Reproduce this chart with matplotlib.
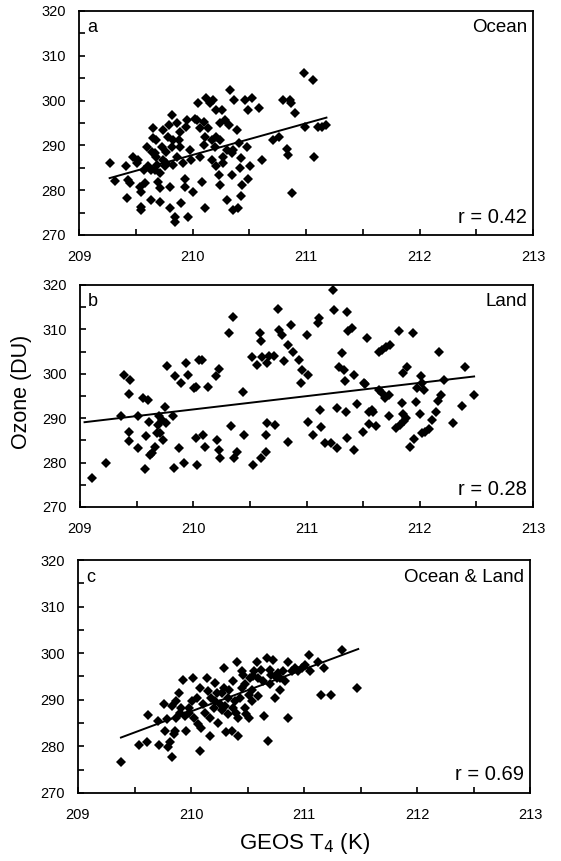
import matplotlib
matplotlib.use("Agg")
import matplotlib.pyplot as plt
from matplotlib.ticker import MultipleLocator

plt.rcParams['font.family'] = ['Liberation Sans', 'DejaVu Sans']

# panel a - Ocean
ocean_x = [209.27, 209.32, 209.41, 209.43, 209.45, 209.42, 209.48, 209.51, 209.52, 209.54,
           209.55, 209.55, 209.55, 209.58, 209.60, 209.61, 209.63, 209.63, 209.64, 209.65,
           209.65, 209.67, 209.67, 209.68, 209.68, 209.70, 209.71, 209.71, 209.73, 209.74,
           209.74, 209.77, 209.77, 209.78, 209.79, 209.80, 209.80, 209.82, 209.82, 209.83,
           209.83, 209.85, 209.85, 209.86, 209.88, 209.89, 209.90, 209.92, 209.93, 209.93,
           209.94, 209.95, 209.96, 209.98, 209.99, 210.00, 210.02, 210.04, 210.05, 210.07,
           210.08, 210.10, 210.10, 210.11, 210.11, 210.12, 210.14, 210.15, 210.17, 210.18,
           210.20, 210.21, 210.21, 210.23, 210.24, 210.24, 210.24, 210.26, 210.27, 210.27,
           210.29, 210.30, 210.32, 210.33, 210.35, 210.35, 210.36, 210.36, 210.37, 210.39,
           210.40, 210.41, 210.42, 210.43, 210.43, 210.44, 210.46, 210.48, 210.49, 210.49,
           210.51, 210.52, 210.59, 210.61, 210.71, 210.76, 210.80, 210.83, 210.84, 210.86,
           210.87, 210.88, 210.90, 210.98, 210.99, 211.06, 211.07, 211.11, 211.14, 211.18,
           209.57, 209.76, 209.89, 210.17, 210.30, 209.86, 209.69, 210.07, 209.71, 210.21]
ocean_y = [286.0, 282.1, 285.4, 282.3, 281.7, 278.3, 287.5, 286.0, 286.7, 280.8,
           279.7, 276.3, 275.6, 281.5, 289.7, 285.3, 284.5, 277.8, 288.6, 293.8,
           291.6, 288.2, 284.5, 291.2, 287.5, 281.9, 280.4, 277.4, 289.7, 293.4,
           286.7, 288.6, 286.0, 291.9, 294.6, 276.0, 280.8, 296.8, 289.7, 291.2,
           285.6, 274.1, 273.0, 294.9, 291.2, 289.7, 277.1, 286.0, 282.6, 280.8,
           294.2, 295.7, 274.1, 289.0, 286.7, 279.7, 296.0, 295.7, 299.4, 293.8,
           281.9, 295.3, 290.1, 291.9, 276.0, 300.5, 293.8, 299.4, 286.7, 300.1,
           289.7, 297.9, 285.3, 283.4, 291.2, 294.9, 281.2, 297.9, 287.5, 286.0,
           295.7, 277.8, 294.6, 302.4, 283.4, 288.2, 289.0, 275.6, 300.1, 293.4,
           276.0, 290.5, 284.9, 278.6, 287.1, 281.2, 300.1, 289.7, 297.9, 282.6,
           285.3, 300.5, 298.3, 286.7, 291.2, 291.9, 300.1, 289.3, 287.9, 300.1,
           299.4, 279.3, 297.2, 306.1, 294.2, 304.6, 287.5, 294.2, 294.0, 294.6,
           284.5, 285.3, 293.1, 291.2, 289.0, 287.5, 285.6, 287.5, 283.8, 291.9]
ocean_fit_x = [209.27, 211.18]
ocean_fit_y = [282.7, 296.2]

# panel b - Land
land_x = [209.11, 209.23, 209.36, 209.39, 209.43, 209.43, 209.43, 209.44, 209.51, 209.51,
          209.56, 209.57, 209.58, 209.60, 209.61, 209.62, 209.64, 209.66, 209.68, 209.69,
          209.70, 209.71, 209.72, 209.73, 209.75, 209.76, 209.77, 209.82, 209.83, 209.84,
          209.87, 209.89, 209.92, 209.94, 209.95, 210.01, 210.02, 210.03, 210.02, 210.05,
          210.08, 210.09, 210.10, 210.13, 210.20, 210.21, 210.23, 210.23, 210.24, 210.32,
          210.33, 210.35, 210.36, 210.39, 210.44, 210.45, 210.52, 210.53, 210.56, 210.59,
          210.60, 210.60, 210.61, 210.64, 210.64, 210.65, 210.65, 210.67, 210.71, 210.72,
          210.75, 210.76, 210.78, 210.80, 210.84, 210.84, 210.86, 210.88, 210.93, 210.96,
          210.95, 211.00, 211.01, 211.01, 211.06, 211.10, 211.11, 211.12, 211.13, 211.16,
          211.22, 211.23, 211.24, 211.27, 211.29, 211.27, 211.31, 211.33, 211.34, 211.35,
          211.36, 211.36, 211.37, 211.40, 211.42, 211.42, 211.45, 211.50, 211.51, 211.52,
          211.53, 211.55, 211.55, 211.58, 211.59, 211.61, 211.64, 211.64, 211.67, 211.67,
          211.69, 211.70, 211.73, 211.73, 211.74, 211.79, 211.82, 211.83, 211.84, 211.85,
          211.85, 211.86, 211.88, 211.89, 211.91, 211.94, 211.95, 211.97, 211.98, 212.00,
          212.01, 212.02, 212.02, 212.04, 212.05, 212.08, 212.11, 212.14, 212.16, 212.17,
          212.19, 212.21, 212.29, 212.37, 212.40, 212.48]
land_y = [276.5, 280.0, 290.6, 299.8, 287.0, 295.5, 284.8, 298.6, 283.3, 290.6,
          294.5, 278.6, 285.9, 294.1, 289.1, 281.8, 282.1, 283.6, 286.6, 288.5,
          290.4, 286.6, 289.6, 285.1, 292.6, 288.9, 301.8, 290.5, 278.8, 299.4,
          283.3, 297.9, 280.0, 302.4, 299.8, 296.8, 297.1, 279.5, 285.5, 303.0,
          303.1, 286.3, 283.6, 297.1, 299.4, 285.1, 301.0, 282.9, 281.0, 309.3,
          288.3, 312.9, 281.0, 282.5, 295.8, 286.3, 303.7, 279.5, 301.9, 309.1,
          307.3, 281.0, 303.7, 286.3, 282.5, 302.4, 289.0, 303.9, 304.0, 288.5,
          314.6, 309.9, 308.8, 302.8, 306.5, 284.6, 311.0, 305.0, 303.1, 300.9,
          297.9, 308.8, 299.8, 289.1, 286.3, 311.4, 312.5, 291.9, 288.1, 284.5,
          284.5, 318.9, 314.4, 283.3, 301.5, 292.3, 304.6, 300.9, 298.3, 291.4,
          314.0, 285.5, 309.7, 310.3, 282.9, 299.8, 293.2, 286.9, 297.9, 297.7,
          308.0, 291.4, 288.7, 291.9, 291.5, 288.3, 305.0, 296.4, 305.4, 295.6,
          294.5, 306.1, 295.3, 290.6, 306.5, 287.8, 309.7, 288.5, 293.4, 300.1,
          291.0, 289.3, 290.0, 301.6, 283.6, 309.1, 285.3, 293.6, 296.8, 291.0,
          299.4, 297.9, 286.6, 296.4, 287.0, 287.5, 289.6, 291.5, 293.8, 304.8,
          295.3, 298.6, 289.0, 292.8, 301.6, 295.3]
land_fit_x = [209.04, 212.48]
land_fit_y = [289.1, 299.4]

# panel c - Ocean & Land
both_x = [209.38, 209.54, 209.61, 209.62, 209.71, 209.72, 209.76, 209.77, 209.79, 209.80,
          209.81, 209.83, 209.83, 209.85, 209.86, 209.87, 209.87, 209.90, 209.91, 209.93,
          209.95, 209.96, 209.98, 209.98, 210.01, 210.02, 210.03, 210.06, 210.08, 210.08,
          210.09, 210.12, 210.14, 210.15, 210.17, 210.17, 210.18, 210.20, 210.21, 210.23,
          210.24, 210.26, 210.27, 210.29, 210.29, 210.30, 210.31, 210.33, 210.34, 210.36,
          210.37, 210.39, 210.40, 210.42, 210.42, 210.41, 210.43, 210.45, 210.46, 210.48,
          210.49, 210.51, 210.51, 210.52, 210.54, 210.55, 210.56, 210.58, 210.59, 210.59,
          210.62, 210.65, 210.67, 210.68, 210.70, 210.71, 210.73, 210.74, 210.77, 210.79,
          210.79, 210.81, 210.83, 210.86, 210.86, 210.92, 210.95, 211.01, 211.04, 211.05,
          211.12, 211.15, 211.18, 211.24, 211.34, 211.47,
          209.89, 210.05, 210.11, 210.21, 210.27, 210.33, 210.37, 210.45, 210.48, 210.54,
          210.64, 210.70, 210.76, 210.89, 210.98]
both_y = [276.6, 280.4, 280.9, 286.7, 285.5, 280.3, 289.1, 283.3, 285.8, 279.8,
          280.9, 277.7, 288.7, 282.6, 283.3, 286.2, 289.7, 287.2, 288.3, 294.3,
          286.5, 283.3, 288.3, 287.2, 289.7, 294.7, 286.2, 284.8, 279.1, 292.6,
          284.0, 287.2, 294.7, 291.8, 286.2, 282.3, 290.4, 288.3, 293.6, 291.5,
          285.1, 289.0, 291.5, 296.8, 292.6, 288.7, 283.0, 286.9, 292.2, 283.3,
          294.0, 289.7, 287.2, 286.2, 282.3, 298.2, 290.4, 296.1, 295.4, 288.3,
          286.9, 291.1, 286.2, 294.7, 292.2, 295.0, 296.1, 298.2, 290.8, 294.7,
          296.5, 286.5, 298.9, 281.2, 296.5, 295.4, 298.6, 290.4, 295.7, 292.2,
          294.7, 296.1, 294.0, 298.2, 286.2, 296.8, 296.1, 297.5, 299.6, 296.1,
          298.2, 291.1, 296.8, 291.1, 300.7, 292.6,
          291.5, 290.4, 289.0, 289.7, 287.9, 290.4, 288.3, 292.6, 293.3, 289.7,
          294.0, 293.3, 294.7, 296.1, 296.8]
both_fit_x = [209.38, 211.48]
both_fit_y = [281.9, 300.9]

letters = ['a', 'b', 'c']
names = ['Ocean', 'Land', 'Ocean & Land']
r_values = ['0.42', '0.28', '0.69']
xs = [ocean_x, land_x, both_x]
ys = [ocean_y, land_y, both_y]
fit_xs = [ocean_fit_x, land_fit_x, both_fit_x]
fit_ys = [ocean_fit_y, land_fit_y, both_fit_y]

fig = plt.figure(figsize=(5.61, 8.61), dpi=100)

# axes boxes in pixels (left, top, right, bottom)
boxes = [(79, 11, 533, 235), (80, 285, 533, 507), (78, 560, 530, 793)]

for i in range(3):
    l, t, r, b = boxes[i]
    ax = fig.add_axes([l / 561, 1 - b / 861, (r - l) / 561, (b - t) / 861])
    ax.plot(xs[i], ys[i], linestyle='none', marker='D', markersize=5.4,
            color='black', markeredgewidth=0)
    ax.plot(fit_xs[i], fit_ys[i], color='black', linewidth=1.4)
    ax.set_xlim(209, 213)
    ax.set_ylim(270, 320)
    ax.xaxis.set_major_locator(MultipleLocator(1))
    ax.xaxis.set_minor_locator(MultipleLocator(0.5))
    ax.yaxis.set_major_locator(MultipleLocator(10))
    ax.yaxis.set_minor_locator(MultipleLocator(5))
    ax.tick_params(which='both', direction='in', length=4, width=1.2,
                   top=False, right=False, labelsize=10.5)
    ax.tick_params(axis='x', pad=11)
    ax.tick_params(axis='y', pad=9.5)
    for s in ax.spines.values():
        s.set_linewidth(1.3)
    ax.text(0.018, 0.925, letters[i], transform=ax.transAxes, fontsize=13,
            ha='left', va='center')
    ax.text(0.987, 0.925, names[i], transform=ax.transAxes, fontsize=13.5,
            ha='right', va='center')
    ax.text(0.987, 0.08, 'r = ' + r_values[i], transform=ax.transAxes,
            fontsize=14.5, ha='right', va='center')

fig.text(22 / 561, 1 - 392 / 861, 'Ozone (DU)', rotation=90, fontsize=15.5,
         ha='center', va='center')
fig.text(305 / 561, 1 - 844 / 861, 'GEOS T$_4$ (K)', fontsize=16,
         ha='center', va='center')

fig.savefig('out.png', dpi=100)
